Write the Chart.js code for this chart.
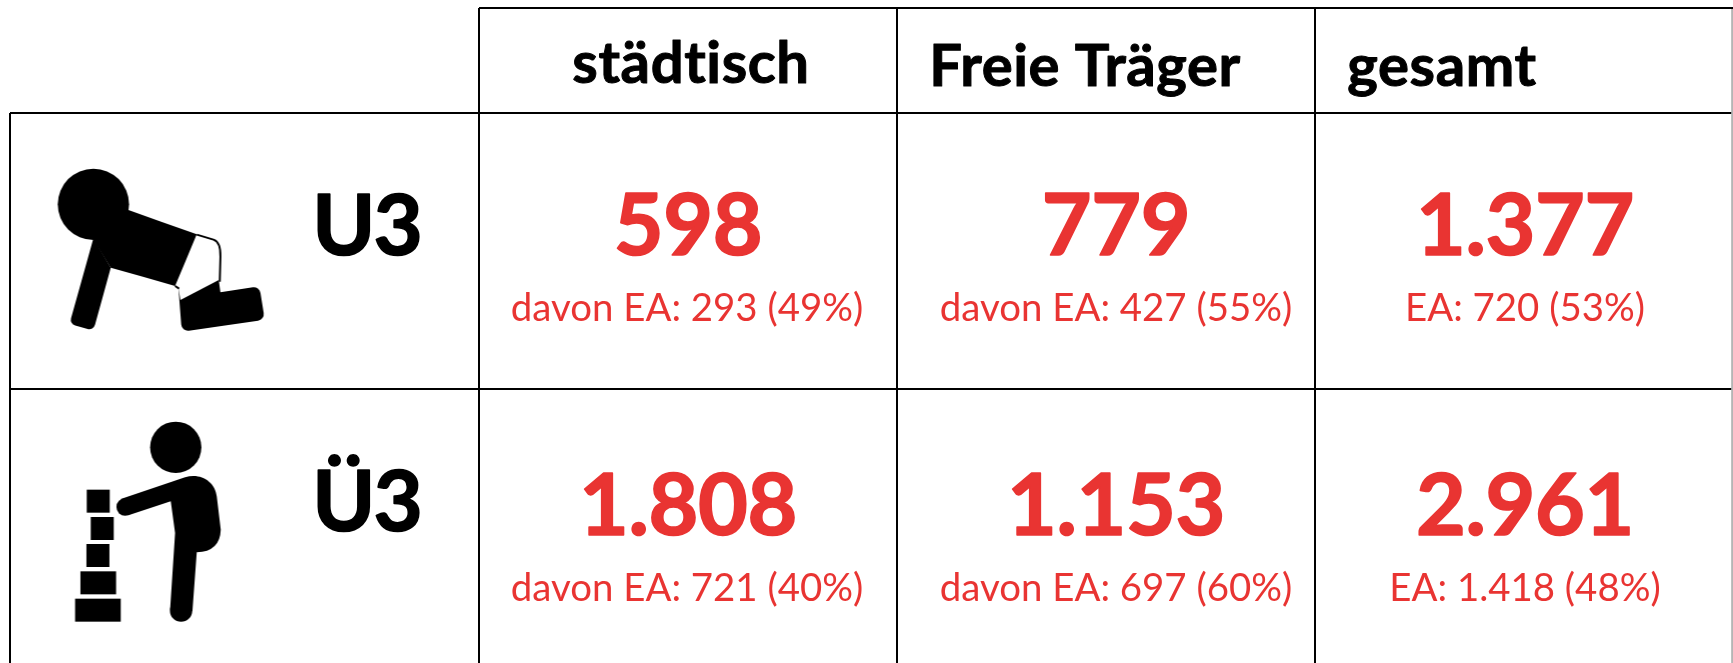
<!DOCTYPE html>
<html lang="de">
<head>
<meta charset="utf-8">
<title>Plätze U3 / Ü3</title>
<style>html,body{margin:0;padding:0;background:#fff}#wrap{width:1733px;height:663px;position:relative}canvas{display:block}</style>
<script src="https://cdn.jsdelivr.net/npm/chart.js@4"></script>
</head>
<body>
<div id="wrap"><canvas id="c" width="1733" height="663"></canvas></div>
<script>
const columnHeaders = ["städtisch", "Freie Träger", "gesamt"];
const rowLabels = ["U3", "Ü3"];
const totalsU3 = [598, 779, 1377];
const totalsUe3 = [1808, 1153, 2961];
const eaU3 = [293, 427, 720];
const eaUe3 = [721, 697, 1418];
const sharesU3 = [49, 55, 53];
const sharesUe3 = [40, 60, 48];
const eaPrefixes = ["davon EA: ", "davon EA: ", "EA: "];

const RED = "#E93432", FONT = "Lato, Carlito, sans-serif";
const fmt = n => String(n).replace(/\B(?=(\d{3})+$)/g, ".");

// layout of the table scales
const COL = 418, ROW = 276;
const X0 = 479, Y0 = 113, LEFT = 10, TOP = 8, W = 1733, H = 663;
const xMin = (LEFT - X0) / COL, xMax = (W - X0) / COL;
const yMin = (TOP - Y0) / ROW, yMax = (H - Y0) / ROW;

function poly(ctx, pts) {
  const n = pts.length;
  const mid = (a, b) => [(a[0] + b[0]) / 2, (a[1] + b[1]) / 2];
  const s = mid(pts[n - 1], pts[0]);
  ctx.beginPath(); ctx.moveTo(s[0], s[1]);
  for (let i = 0; i < n; i++) {
    const p = pts[i], q = pts[(i + 1) % n], m = mid(p, q);
    if (p[2]) ctx.arcTo(p[0], p[1], m[0], m[1], p[2]); else ctx.lineTo(p[0], p[1]);
    ctx.lineTo(m[0], m[1]);
  }
  ctx.closePath(); ctx.fill();
}
function iconCanvas(dx, dy, draw) {
  const cv = document.createElement("canvas");
  cv.width = 480; cv.height = 280;
  const ctx = cv.getContext("2d");
  ctx.fillStyle = "#000"; ctx.strokeStyle = "#000";
  ctx.translate(dx, dy);
  ctx.scale(1 / 3, 1 / 3);
  draw(ctx);
  return cv;
}
const baby = iconCanvas(-4.4, -11, ctx => {
  ctx.beginPath(); ctx.arc(280, 313, 107, 0, 7); ctx.fill();
  poly(ctx, [[340, 310], [385, 330], [590, 403], [525, 558], [332, 503], [280, 420]]);
  poly(ctx, [[280, 415], [332, 503], [280, 692, 18], [208, 672, 18]]);
  poly(ctx, [[535, 563], [541, 600], [656, 540], [661, 577], [778, 559, 20], [794, 659, 20], [545, 695, 20]]);
  ctx.lineWidth = 6;
  ctx.beginPath(); ctx.moveTo(590, 404); ctx.lineTo(640, 419);
  ctx.quadraticCurveTo(662, 426, 661, 470); ctx.lineTo(659, 545); ctx.stroke();
  ctx.beginPath(); ctx.moveTo(525, 558); ctx.lineTo(537, 566); ctx.stroke();
});
const child = iconCanvas(-4.4, -4, ctx => {
  ctx.beginPath(); ctx.arc(527, 193, 77, 0, 7); ctx.fill();
  ctx.beginPath();
  ctx.moveTo(362, 348); ctx.lineTo(555, 283);
  ctx.bezierCurveTo(600, 268, 645, 295, 650, 340);
  ctx.lineTo(662, 440);
  ctx.quadraticCurveTo(660, 505, 590, 508);
  ctx.lineTo(577, 685); ctx.lineTo(510, 680);
  ctx.lineTo(525, 450); ctx.lineTo(512, 355); ctx.lineTo(385, 397);
  ctx.closePath(); ctx.fill();
  ctx.beginPath(); ctx.arc(375, 372, 26, 0, 7); ctx.fill();
  ctx.beginPath(); ctx.arc(543, 683, 33.5, 0, 7); ctx.fill();
  ctx.fillRect(260, 320, 69, 69);
  ctx.fillRect(272, 402, 69, 69);
  ctx.fillRect(259, 483, 69, 69);
  ctx.fillRect(241, 565, 107, 69);
  ctx.fillRect(225, 647, 137, 69);
});

const cellPoints = [];
[totalsU3, totalsUe3].forEach((vals, r) => vals.forEach((v, c) => {
  const ea = (r ? eaUe3 : eaU3)[c], sh = (r ? sharesUe3 : sharesU3)[c];
  cellPoints.push({ x: c + 0.5, y: r + 0.5, total: fmt(v), sub: eaPrefixes[c] + fmt(ea) + " (" + sh + "%)" });
}));
const headerPoints = columnHeaders.map((t, c) => ({ x: c + 0.5, y: yMin / 2, text: t }));
const rowPoints = rowLabels.map((t, r) => ({ x: xMin / 2, y: r + 0.5, text: t }));

const cellDX = [0, 10, 1];
const subDX = [-1, 10, 1];
const headDX = [3, -21, -82];
const headBase = [83, 86, 86];
const numBase = [255, 535];
const subBase = [321, 601];
const labelBase = [255, 531];

function put(ctx, text, x, y, font, color, heavy, spacing) {
  ctx.save();
  ctx.font = font; ctx.fillStyle = color; ctx.strokeStyle = color;
  ctx.textAlign = "center"; ctx.textBaseline = "alphabetic";
  ctx.lineJoin = "round";
  ctx.letterSpacing = (spacing || 0) + "px";
  ctx.fillText(text, x, y);
  if (heavy) { ctx.lineWidth = heavy; ctx.strokeText(text, x, y); }
  ctx.restore();
}
const tableText = {
  id: "tableText",
  afterDatasetsDraw(chart) {
    const ctx = chart.ctx, meta = i => chart.getDatasetMeta(i).data;
    meta(0).forEach((el, i) => {
      const c = i % 3, r = Math.floor(i / 3), d = cellPoints[i];
      put(ctx, d.total, el.x + cellDX[c], numBase[r], "700 86px " + FONT, RED, 1.6, -0.4);
      put(ctx, d.sub, el.x + subDX[c], subBase[r], "400 38.4px " + FONT, RED, 0, 0);
    });
    meta(1).forEach((el, i) => put(ctx, headerPoints[i].text, el.x + headDX[i], headBase[i], "700 58px " + FONT, "#000", 1, 0.6));
    meta(2).forEach((el, i) => put(ctx, rowPoints[i].text, el.x + 122, labelBase[i], "700 85px " + FONT, "#000", 1.6, -2));
  }
};

const rule = (data, color) => ({ type: "line", data, borderColor: color, borderWidth: 2, pointRadius: 0, clip: false, tension: 0 });

new Chart(document.getElementById("c"), {
  type: "scatter",
  data: {
    datasets: [
      { data: cellPoints, pointRadius: 0 },
      { data: headerPoints, pointRadius: 0 },
      { data: rowPoints, pointRadius: 1, pointStyle: [baby, child] },
      rule([{ x: xMin, y: 0 }, { x: xMin, y: yMax }], "#000"),
      rule([{ x: 0, y: yMin }, { x: xMax, y: yMin }], "#000"),
      rule([{ x: 2.998, y: yMin }, { x: 2.998, y: yMax }], "#B5B5B5")
    ]
  },
  options: {
    responsive: false,
    animation: false,
    events: [],
    layout: { autoPadding: false, padding: { left: LEFT, top: TOP, right: 0, bottom: 0 } },
    plugins: { legend: { display: false }, tooltip: { enabled: false }, title: { display: false } },
    scales: {
      x: {
        type: "linear", min: xMin, max: xMax,
        afterBuildTicks: s => { s.ticks = [{ value: 0 }, { value: 1 }, { value: 2 }]; },
        grid: { color: "#000", lineWidth: 2, drawTicks: false },
        border: { display: false },
        ticks: { display: false }
      },
      y: {
        type: "linear", reverse: true, min: yMin, max: yMax,
        afterBuildTicks: s => { s.ticks = [{ value: 0 }, { value: 1 }]; },
        grid: { color: "#000", lineWidth: 2, drawTicks: false },
        border: { display: false },
        ticks: { display: false }
      }
    }
  },
  plugins: [tableText]
});
</script>
</body>
</html>
